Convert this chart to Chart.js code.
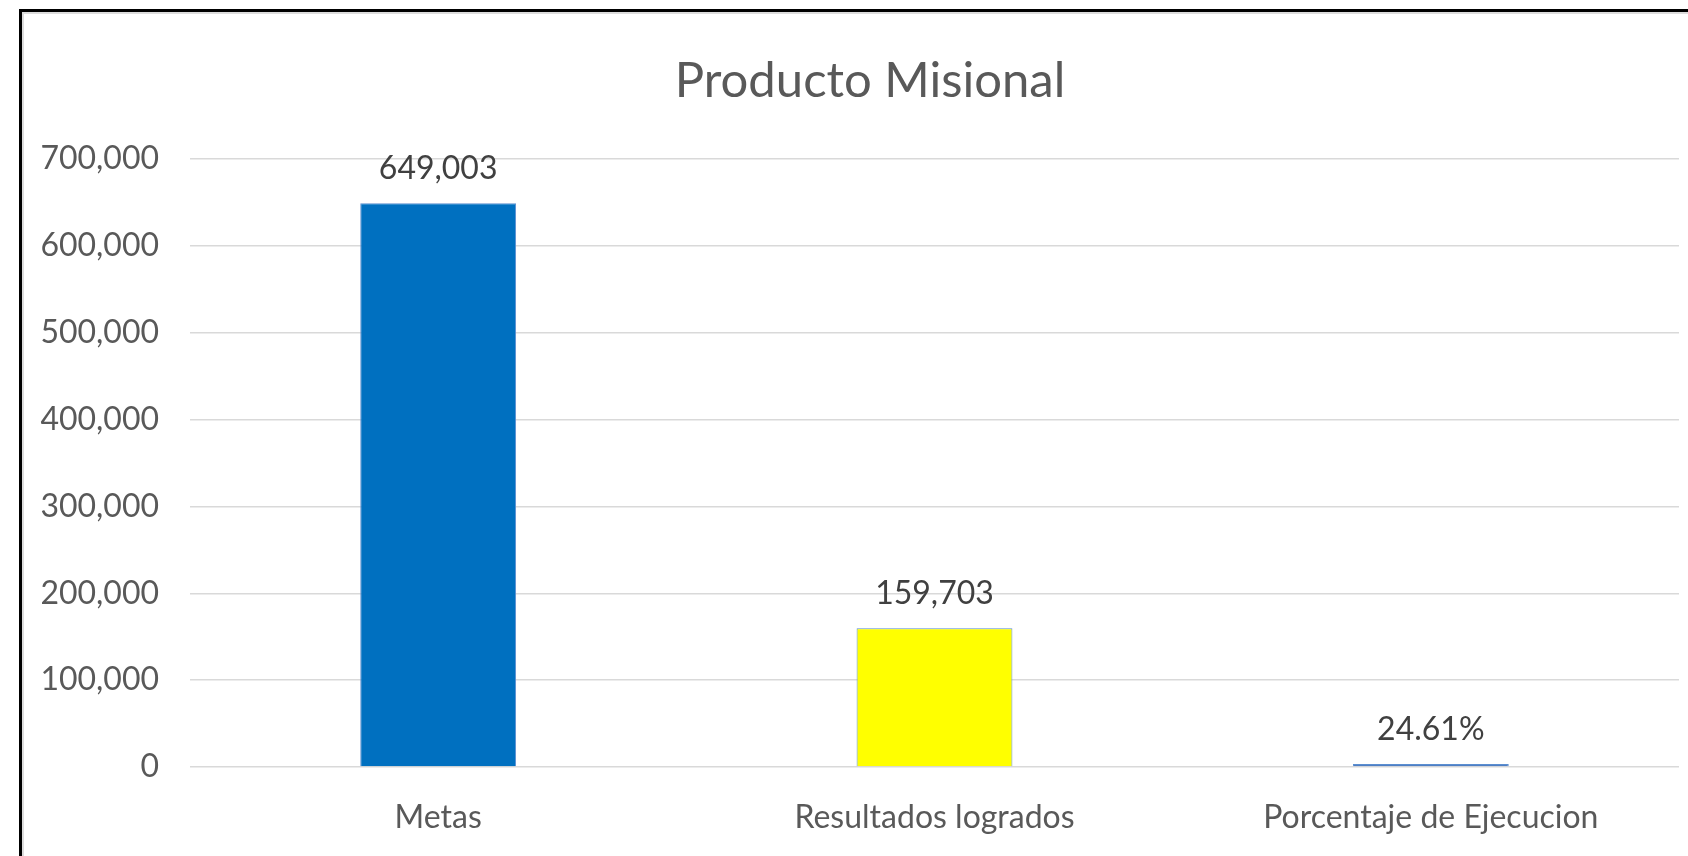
<!DOCTYPE html>
<html>
<head>
<meta charset="utf-8">
<script src="https://cdn.jsdelivr.net/npm/chart.js@4"></script>
<style>
  html, body { margin: 0; padding: 0; background: #fff; }
  .wrap { position: relative; width: 1688px; height: 856px; overflow: hidden; }
  .frame {
    position: absolute; left: 19px; top: 9px; width: 1720px; height: 900px;
    border-left: 3px solid #000; border-top: 3px solid #000;
    box-shadow: inset 2px 2px 0 #dcdcdc; pointer-events: none;
  }
</style>
</head>
<body>
<div class="wrap">
  <canvas id="chart" width="1688" height="856"></canvas>
  <div class="frame"></div>
</div>
<script>
// ---- data ----
const chartTitle = 'Producto Misional';
const categories = ['Metas', 'Resultados logrados', 'Porcentaje de Ejecucion'];
const values = [649003, 159703, 0.2461];
const valueFormats = ['number', 'number', 'percent'];
const barColors = ['#0070C0', '#FFFF00', '#4F7FC4'];
const yTicks = [0, 100000, 200000, 300000, 400000, 500000, 600000, 700000];

const FONT = 'Lato, "Open Sans", sans-serif';

function formatValue(v, kind) {
  if (kind === 'percent') return (v * 100).toFixed(2) + '%';
  return v.toLocaleString('en-US');
}

// title sits a bit left of the plot centre, like the Excel original
const titleText = {
  id: 'titleText',
  afterDraw(chart) {
    const ctx = chart.ctx;
    ctx.save();
    ctx.font = '49px ' + FONT;
    ctx.fillStyle = '#595959';
    ctx.textAlign = 'center';
    ctx.textBaseline = 'middle';
    ctx.fillText(chartTitle, 870, 81);
    ctx.restore();
  }
};

// draws value labels above each bar
const valueLabels = {
  id: 'valueLabels',
  afterDatasetsDraw(chart) {
    const ctx = chart.ctx;
    const meta = chart.getDatasetMeta(0);
    ctx.save();
    ctx.font = '32px ' + FONT;
    ctx.fillStyle = '#404040';
    ctx.textAlign = 'center';
    ctx.textBaseline = 'alphabetic';
    meta.data.forEach((bar, i) => {
      ctx.fillText(formatValue(values[i], valueFormats[i]), bar.x, bar.y - 24);
    });
    ctx.restore();
  }
};

new Chart(document.getElementById('chart'), {
  type: 'bar',
  data: {
    labels: categories,
    datasets: [{
      data: values,
      backgroundColor: barColors,
      borderColor: '#5B8ED0',
      borderWidth: 1,
      minBarLength: 3,
      categoryPercentage: 1,
      barPercentage: 0.314,
    }]
  },
  options: {
    responsive: false,
    animation: false,
    layout: { padding: { left: 0, right: 9, top: 159, bottom: 0 } },
    plugins: {
      legend: { display: false },
      tooltip: { enabled: false },
      title: { display: false }
    },
    scales: {
      x: {
        grid: { display: false },
        border: { display: false },
        afterFit: s => { s.height = 89; },
        ticks: { color: '#595959', font: { family: FONT, size: 32 }, padding: 23 }
      },
      y: {
        min: 0,
        max: 700000,
        afterBuildTicks: s => { s.ticks = yTicks.map(v => ({ value: v })); },
        afterFit: s => { s.width = 190; },
        grid: { color: '#D9D9D9', lineWidth: 1.5, drawTicks: false },
        border: { display: false },
        ticks: {
          color: '#595959',
          font: { family: FONT, size: 32 },
          padding: 31,
          callback: v => v.toLocaleString('en-US')
        }
      }
    }
  },
  plugins: [valueLabels, titleText]
});
</script>
</body>
</html>
